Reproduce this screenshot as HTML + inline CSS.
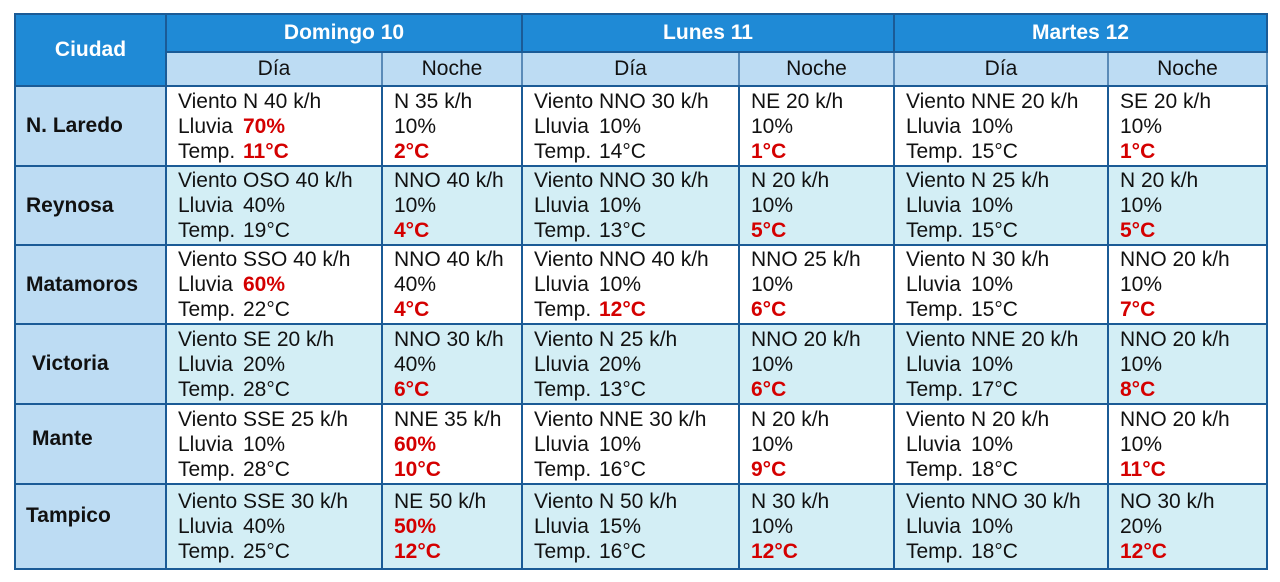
<!DOCTYPE html>
<html><head><meta charset="utf-8"><style>
body{margin:0;background:#fff;width:1280px;height:582px;overflow:hidden;font-family:"Liberation Sans",sans-serif;}
table{position:absolute;left:14px;top:13px;border-collapse:collapse;table-layout:fixed;}
td,th{border:2px solid #1b5b96;padding:0;}
th.h{background:#1f8ad6;color:#fff;font-weight:bold;font-size:21px;height:36px;}
th.s{background:#bddcf3;color:#111;font-weight:normal;font-size:21px;height:32px;border-color:#1b5b96 #5a8bb8;}
td.c{background:#bddcf3;font-weight:bold;font-size:21px;padding-left:10px;color:#111;}
td.d{font-size:21px;line-height:25px;color:#111;padding-left:11px;vertical-align:middle;white-space:nowrap;}
td.n{border-left:1px solid #5a8bb8;}
td.d span.l{display:inline-block;width:65px;}
tr.w td.d{background:#fff;}
tr.b td.d{background:#d3eef5;}
b{color:#d40000;}
</style></head><body>
<table>
<colgroup><col style="width:151px"><col style="width:216px"><col style="width:140px"><col style="width:217px"><col style="width:155px"><col style="width:214px"><col style="width:159px"></colgroup>
<tr><th class="h" rowspan="2" style="vertical-align:middle;padding-top:0">Ciudad</th><th class="h" colspan="2">Domingo 10</th><th class="h" colspan="2">Lunes 11</th><th class="h" colspan="2">Martes 12</th></tr>
<tr><th class="s">Día</th><th class="s">Noche</th><th class="s">Día</th><th class="s">Noche</th><th class="s">Día</th><th class="s">Noche</th></tr>
<tr class="w" style="height:80px"><td class="c">N. Laredo</td>
<td class="d"><span class="l">Viento</span>N 40 k/h<br><span class="l">Lluvia</span><b>70%</b><br><span class="l">Temp.</span><b>11°C</b></td>
<td class="d n">N 35 k/h<br>10%<br><b>2°C</b></td>
<td class="d"><span class="l">Viento</span>NNO 30 k/h<br><span class="l">Lluvia</span>10%<br><span class="l">Temp.</span>14°C</td>
<td class="d n">NE 20 k/h<br>10%<br><b>1°C</b></td>
<td class="d"><span class="l">Viento</span>NNE 20 k/h<br><span class="l">Lluvia</span>10%<br><span class="l">Temp.</span>15°C</td>
<td class="d n">SE 20 k/h<br>10%<br><b>1°C</b></td></tr>
<tr class="b" style="height:79px"><td class="c">Reynosa</td>
<td class="d"><span class="l">Viento</span>OSO 40 k/h<br><span class="l">Lluvia</span>40%<br><span class="l">Temp.</span>19°C</td>
<td class="d n">NNO 40 k/h<br>10%<br><b>4°C</b></td>
<td class="d"><span class="l">Viento</span>NNO 30 k/h<br><span class="l">Lluvia</span>10%<br><span class="l">Temp.</span>13°C</td>
<td class="d n">N 20 k/h<br>10%<br><b>5°C</b></td>
<td class="d"><span class="l">Viento</span>N 25 k/h<br><span class="l">Lluvia</span>10%<br><span class="l">Temp.</span>15°C</td>
<td class="d n">N 20 k/h<br>10%<br><b>5°C</b></td></tr>
<tr class="w" style="height:79px"><td class="c">Matamoros</td>
<td class="d"><span class="l">Viento</span>SSO 40 k/h<br><span class="l">Lluvia</span><b>60%</b><br><span class="l">Temp.</span>22°C</td>
<td class="d n">NNO 40 k/h<br>40%<br><b>4°C</b></td>
<td class="d"><span class="l">Viento</span>NNO 40 k/h<br><span class="l">Lluvia</span>10%<br><span class="l">Temp.</span><b>12°C</b></td>
<td class="d n">NNO 25 k/h<br>10%<br><b>6°C</b></td>
<td class="d"><span class="l">Viento</span>N 30 k/h<br><span class="l">Lluvia</span>10%<br><span class="l">Temp.</span>15°C</td>
<td class="d n">NNO 20 k/h<br>10%<br><b>7°C</b></td></tr>
<tr class="b" style="height:80px"><td class="c" style="padding-left:16px">Victoria</td>
<td class="d"><span class="l">Viento</span>SE 20 k/h<br><span class="l">Lluvia</span>20%<br><span class="l">Temp.</span>28°C</td>
<td class="d n">NNO 30 k/h<br>40%<br><b>6°C</b></td>
<td class="d"><span class="l">Viento</span>N 25 k/h<br><span class="l">Lluvia</span>20%<br><span class="l">Temp.</span>13°C</td>
<td class="d n">NNO 20 k/h<br>10%<br><b>6°C</b></td>
<td class="d"><span class="l">Viento</span>NNE 20 k/h<br><span class="l">Lluvia</span>10%<br><span class="l">Temp.</span>17°C</td>
<td class="d n">NNO 20 k/h<br>10%<br><b>8°C</b></td></tr>
<tr class="w" style="height:80px"><td class="c" style="padding-left:16px;padding-bottom:10px">Mante</td>
<td class="d"><span class="l">Viento</span>SSE 25 k/h<br><span class="l">Lluvia</span>10%<br><span class="l">Temp.</span>28°C</td>
<td class="d n">NNE 35 k/h<br><b>60%</b><br><b>10°C</b></td>
<td class="d"><span class="l">Viento</span>NNE 30 k/h<br><span class="l">Lluvia</span>10%<br><span class="l">Temp.</span>16°C</td>
<td class="d n">N 20 k/h<br>10%<br><b>9°C</b></td>
<td class="d"><span class="l">Viento</span>N 20 k/h<br><span class="l">Lluvia</span>10%<br><span class="l">Temp.</span>18°C</td>
<td class="d n">NNO 20 k/h<br>10%<br><b>11°C</b></td></tr>
<tr class="b" style="height:85px"><td class="c" style="padding-bottom:22px">Tampico</td>
<td class="d"><span class="l">Viento</span>SSE 30 k/h<br><span class="l">Lluvia</span>40%<br><span class="l">Temp.</span>25°C</td>
<td class="d n">NE 50 k/h<br><b>50%</b><br><b>12°C</b></td>
<td class="d"><span class="l">Viento</span>N 50 k/h<br><span class="l">Lluvia</span>15%<br><span class="l">Temp.</span>16°C</td>
<td class="d n">N 30 k/h<br>10%<br><b>12°C</b></td>
<td class="d"><span class="l">Viento</span>NNO 30 k/h<br><span class="l">Lluvia</span>10%<br><span class="l">Temp.</span>18°C</td>
<td class="d n">NO 30 k/h<br>20%<br><b>12°C</b></td></tr>
</table>
</body></html>
